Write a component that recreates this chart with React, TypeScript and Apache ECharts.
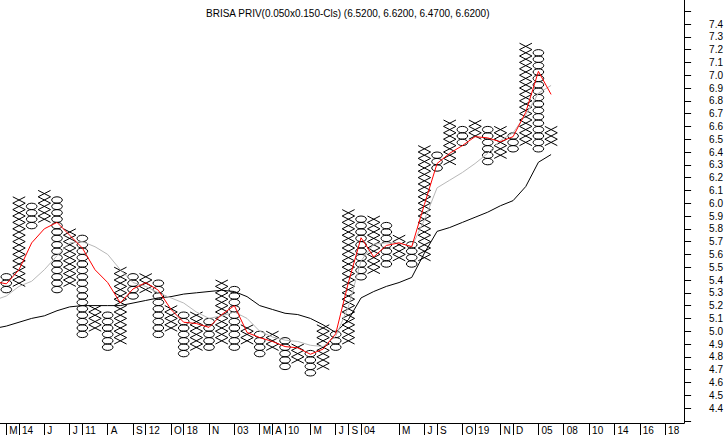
import React, { useEffect, useRef } from "react";
import * as echarts from "echarts";

const TITLE = "BRISA PRIV(0.050x0.150-Cls) (6.5200, 6.6200, 6.4700, 6.6200)";
const BOX = 0.05;

// Point & figure columns (index = column number), top/bottom edges of each column
const colTypes = [
  "O","X","O","X","O","X","O","X","O","X",
  "O","X","O","X","O","X","O","X","O","X",
  "O","X","O","X","O","X","O","X","O","X",
  "O","X","O","X","O","X","O","X","O","X",
  "O","X","O","X",
];
const colTop = [
  5.45, 6.05, 6.0, 6.1, 6.05, 5.8, 5.75, 5.2, 5.15, 5.5,
  5.45, 5.45, 5.4, 5.2, 5.15, 5.15, 5.1, 5.4, 5.35, 5.05,
  5.0, 5.0, 4.95, 4.9, 4.85, 5.05, 5.0, 5.95, 5.9, 5.9,
  5.85, 5.75, 5.7, 6.45, 6.4, 6.65, 6.6, 6.65, 6.6, 6.6,
  6.55, 7.25, 7.2, 6.6,
];
const colBottom = [
  5.3, 5.35, 5.8, 5.85, 5.3, 5.35, 4.95, 5.0, 4.85, 4.9,
  5.25, 5.3, 4.95, 5.0, 4.8, 4.85, 4.85, 4.9, 4.85, 4.9,
  4.8, 4.85, 4.7, 4.75, 4.65, 4.7, 4.85, 4.9, 5.4, 5.45,
  5.5, 5.55, 5.5, 5.55, 6.25, 6.3, 6.45, 6.5, 6.3, 6.35,
  6.4, 6.45, 6.4, 6.45,
];

// Moving-average lines, first value belongs to column -1
const MA_START = -1;
const redLine = [
  5.39,
  5.37, 5.48, 5.69, 5.8, 5.85, 5.75, 5.65, 5.48, 5.38, 5.22,
  5.33, 5.38, 5.32, 5.17, 5.07, 5.06, 5.03, 5.13, 5.2, 4.99,
  4.95, 4.92, 4.88, 4.87, 4.82, 4.86, 4.98, 5.38, 5.73, 5.58,
  5.67, 5.69, 5.66, 5.99, 6.31, 6.39, 6.45, 6.52, 6.51, 6.48,
  6.52, 6.71, 7.03, 6.85,
];
const grayLine = [
  5.24,
  5.275, 5.35, 5.39, 5.48, 5.59, 5.69, 5.7, 5.66, 5.6, 5.48,
  5.38, 5.35, 5.3, 5.26, 5.22, 5.15, 5.1, 5.12, 5.15, 5.1,
  5.0, 4.955, 4.93, 4.92, 4.89, 4.88, 4.96, 5.19, 5.55, 5.68,
  5.69, 5.69, 5.66, 5.87, 6.12, 6.18, 6.24, 6.31, 6.39, 6.49,
  6.55, 6.69, 6.86, 6.92,
];
const blackLine = [
  5.02,
  5.04, 5.07, 5.1, 5.12, 5.16, 5.19, 5.2, 5.2, 5.2, 5.2,
  5.22, 5.24, 5.26, 5.27, 5.29, 5.3, 5.31, 5.32, 5.31, 5.27,
  5.2, 5.17, 5.14, 5.13, 5.1, 5.05, 4.99, 5.09, 5.26, 5.31,
  5.35, 5.38, 5.42, 5.61, 5.78, 5.81, 5.85, 5.89, 5.93, 5.98,
  6.02, 6.13, 6.32, 6.38,
];

// X axis (column index) ticks and labels
const xTickIdx = [0, 1, 3, 5, 6, 8, 10, 11, 13, 14, 16, 18, 20, 21, 22, 24, 26, 27, 28, 31, 33, 34, 36, 37, 39, 40, 42, 44, 46, 48, 50, 52];
const xTickLabels = ["M", "14", "J", "J", "11", "A", "S", "12", "O", "18", "N", "03", "M", "A", "10", "M", "J", "S", "04", "M", "J", "S", "O", "19", "N", "D", "05", "08", "10", "14", "16", "18"];
const COLUMN_COUNT = 54;

// Y axis
const yTicks = [4.3, 4.4, 4.5, 4.6, 4.7, 4.8, 4.9, 5.0, 5.1, 5.2, 5.3, 5.4, 5.5, 5.6, 5.7, 5.8, 5.9, 6.0, 6.1, 6.2, 6.3, 6.4, 6.5, 6.6, 6.7, 6.8, 6.9, 7.0, 7.1, 7.2, 7.3, 7.4, 7.5];
const yLabels = [4.4, 4.5, 4.6, 4.7, 4.8, 4.9, 5.0, 5.1, 5.2, 5.3, 5.4, 5.5, 5.6, 5.7, 5.8, 5.9, 6.0, 6.1, 6.2, 6.3, 6.4, 6.5, 6.6, 6.7, 6.8, 6.9, 7.0, 7.1, 7.2, 7.3, 7.4];
const Y_MIN = 4.2828125;
const Y_MAX = 7.5875;

const FONT = "'Liberation Sans', Arial, sans-serif";

export default function App() {
  const ref = useRef<HTMLDivElement>(null);

  useEffect(() => {
    if (!ref.current) return;
    const chart = echarts.init(ref.current, undefined, { renderer: "svg" });

    const pfData = colTypes.map((t, k) => [k, colBottom[k], colTop[k], t === "X" ? 1 : 0]);
    const toLine = (arr: number[]) => arr.map((v, i) => [i + MA_START, v]);
    const labelMap: Record<number, string> = {};
    xTickIdx.forEach((k, i) => (labelMap[k] = xTickLabels[i]));

    const option: any = {
      animation: false,
      backgroundColor: "#ffffff",
      title: {
        text: TITLE,
        left: 201,
        top: 3,
        textStyle: { fontSize: 10, fontWeight: "normal", color: "#000", fontFamily: FONT },
      },
      grid: { left: 0, right: 41, top: 0, bottom: 12, containLabel: false },
      xAxis: {
        type: "value",
        min: -0.5,
        max: COLUMN_COUNT - 0.5,
        axisLine: { show: true, onZero: false, lineStyle: { color: "#000", width: 1 } },
        axisTick: { show: true, length: 12, customValues: xTickIdx, lineStyle: { color: "#000", width: 1 } },
        axisLabel: {
          customValues: xTickIdx,
          formatter: (v: number) => labelMap[Math.round(v)] ?? "",
          align: "left",
          padding: [0, 0, 0, 3],
          margin: 2,
          fontSize: 10,
          color: "#000",
          fontFamily: FONT,
        },
        splitLine: { show: false },
      },
      yAxis: {
        type: "value",
        position: "right",
        min: Y_MIN,
        max: Y_MAX,
        axisLine: { show: true, onZero: false, lineStyle: { color: "#000", width: 1 } },
        axisTick: { show: true, length: 7, customValues: yTicks, lineStyle: { color: "#000", width: 1 } },
        axisLabel: {
          customValues: yLabels,
          formatter: (v: number) => v.toFixed(1),
          margin: 25,
          fontSize: 10,
          color: "#000",
          fontFamily: FONT,
        },
        splitLine: { show: false },
      },
      series: [
        {
          type: "custom",
          clip: true,
          data: pfData,
          encode: { x: 0, y: [1, 2] },
          renderItem: (params: any, api: any) => {
            const k = api.value(0);
            const lo = api.value(1);
            const hi = api.value(2);
            const isX = api.value(3) === 1;
            const n = Math.round((hi - lo) / BOX);
            const bw = api.size([1, 0])[0];
            const cx = api.coord([k, lo])[0];
            const children: any[] = [];
            for (let i = 0; i < n; i++) {
              const p0 = lo + i * BOX;
              const yb = api.coord([k, p0])[1];
              const yt = api.coord([k, p0 + BOX])[1];
              if (isX) {
                const hw = bw * 0.49;
                children.push({
                  type: "line",
                  shape: { x1: cx - hw, y1: yt, x2: cx + hw, y2: yb },
                  style: { stroke: "#000", lineWidth: 1 },
                });
                children.push({
                  type: "line",
                  shape: { x1: cx - hw, y1: yb, x2: cx + hw, y2: yt },
                  style: { stroke: "#000", lineWidth: 1 },
                });
              } else {
                children.push({
                  type: "ellipse",
                  shape: { cx: cx, cy: (yt + yb) / 2, rx: bw * 0.42, ry: (yb - yt) / 2 },
                  style: { fill: "none", stroke: "#000", lineWidth: 1 },
                });
              }
            }
            return { type: "group", children };
          },
        },
        {
          type: "line",
          data: toLine(blackLine),
          showSymbol: false,
          lineStyle: { color: "#000000", width: 1 },
          itemStyle: { color: "#000000" },
        },
        {
          type: "line",
          data: toLine(grayLine),
          showSymbol: false,
          lineStyle: { color: "#b8b8b8", width: 1 },
          itemStyle: { color: "#b8b8b8" },
        },
        {
          type: "line",
          data: toLine(redLine),
          showSymbol: false,
          lineStyle: { color: "#ff0000", width: 1 },
          itemStyle: { color: "#ff0000" },
        },
      ],
    };

    chart.setOption(option);
    return () => chart.dispose();
  }, []);

  return (
    <div
      ref={ref}
      style={{ position: "absolute", left: 0, top: 0, width: 726, height: 435, background: "#fff" }}
    />
  );
}
